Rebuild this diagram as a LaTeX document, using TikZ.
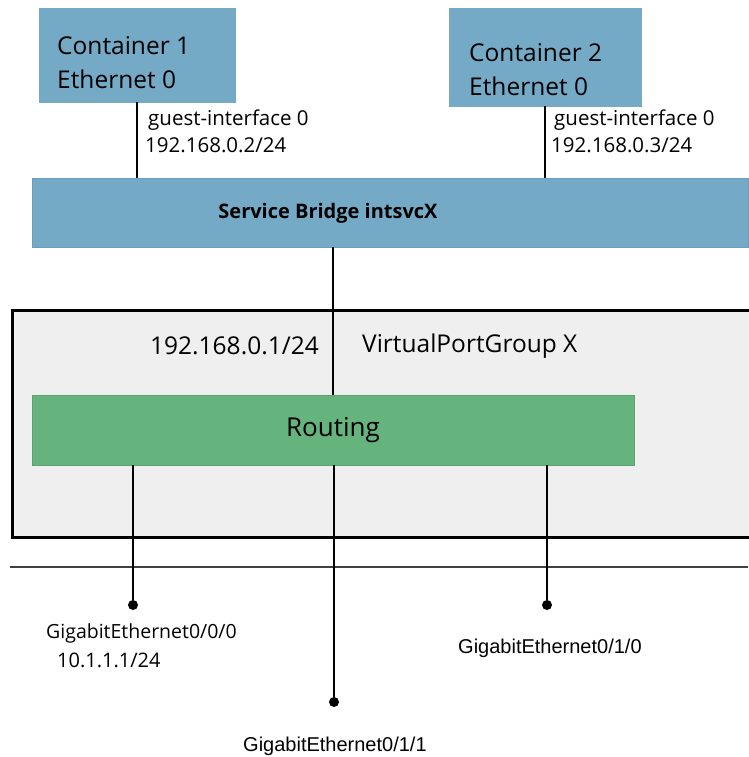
\documentclass[tikz,border=0pt]{standalone}
\usepackage{fontspec}
\setmainfont{Open Sans}
\newfontfamily\arialfont{Liberation Sans}
\definecolor{cblue}{HTML}{75AAC7}
\definecolor{cblueline}{HTML}{6A9EBD}
\definecolor{rgreen}{HTML}{65B37D}
\definecolor{vgray}{HTML}{EFEFEF}
\begin{document}
\begin{tikzpicture}[x=1pt,y=-1pt,
  cbox/.style={draw=cblue,fill=cblue,minimum width=#1,minimum height=94,inner sep=0},
  ctext/.style={anchor=west,inner sep=0,align=left,font=\fontsize{24.5}{34}\selectfont},
  lbl/.style={anchor=west,inner sep=0,font=\fontsize{20.5}{22}\selectfont},
  glbl/.style={anchor=west,inner sep=0,font=\arialfont\fontsize{20}{22}\selectfont},
  wire/.style={line width=2.8pt,black},
  port/.style={circle,fill=black,inner sep=0,minimum size=10}]
\useasboundingbox (0,0) rectangle (748,757);
% containers
\node[cbox=196] (c1) at (137,55) {};
\node[ctext] (c1t) at (57,63) {Container 1\\Ethernet 0};
\node[cbox=192,minimum height=98] (c2) at (545,57) {};
\node[ctext] (c2t) at (469,70) {Container 2\\Ethernet 0};
% bridge
\node[draw=cblueline,fill=cblue,minimum width=716,minimum height=69,inner sep=0] (br) at (390,212.5) {};
\node[inner sep=0,font=\bfseries\fontsize{20}{22}\selectfont] (brt) at (328,213) {Service Bridge intsvcX};
% links containers - bridge
\draw[wire] (c1.south) -- (c1.south |- br.north);
\draw[wire] (c2.south) -- (c2.south |- br.north);
\node[lbl] (g1a) at (148,120) {guest-interface 0};
\node[lbl] (g1b) at (145,145) {192.168.0.2/24};
\node[lbl] (g2a) at (554,120) {guest-interface 0};
\node[lbl] (g2b) at (551,145) {192.168.0.3/24};
% virtual port group
\node[draw=black,line width=3pt,fill=vgray,minimum width=760,minimum height=227,inner sep=0] (vpg) at (392,423.5) {};
\node[anchor=east,inner sep=0,font=\fontsize{24.5}{26}\selectfont] (vip) at (319,346) {192.168.0.1/24};
\node[anchor=west,inner sep=0,font=\fontsize{24.5}{26}\selectfont] (vname) at (362,346) {VirtualPortGroup X};
% routing
\node[fill=rgreen,draw=rgreen!90!black,minimum width=602,minimum height=70,inner sep=0,font=\fontsize{26}{28}\selectfont] (rt) at (333,430) {Routing};
\draw[wire] (br.south -| rt.north) -- (rt.north);
% lower rail
\coordinate (railL) at (10,567);
\coordinate (railR) at (748,567);
\draw[line width=2.4pt,black!75] (railL) -- (railR);
% ports
\node[port] (p1) at (133,605) {};
\node[port] (p2) at (334,702) {};
\node[port] (p3) at (547,605) {};
\draw[wire] (rt.south -| p1) -- (p1);
\draw[wire] (rt.south -| p2) -- (p2);
\draw[wire] (rt.south -| p3) -- (p3);
\node[lbl,font=\fontsize{19.5}{22}\selectfont] (l1a) at (46,633) {GigabitEthernet0/0/0};
\node[lbl,font=\fontsize{20}{22}\selectfont] (l1b) at (57,660) {10.1.1.1/24};
\node[glbl] (l3) at (458,648) {GigabitEthernet0/1/0};
\node[glbl] (l2) at (243,746) {GigabitEthernet0/1/1};
\end{tikzpicture}
\end{document}
